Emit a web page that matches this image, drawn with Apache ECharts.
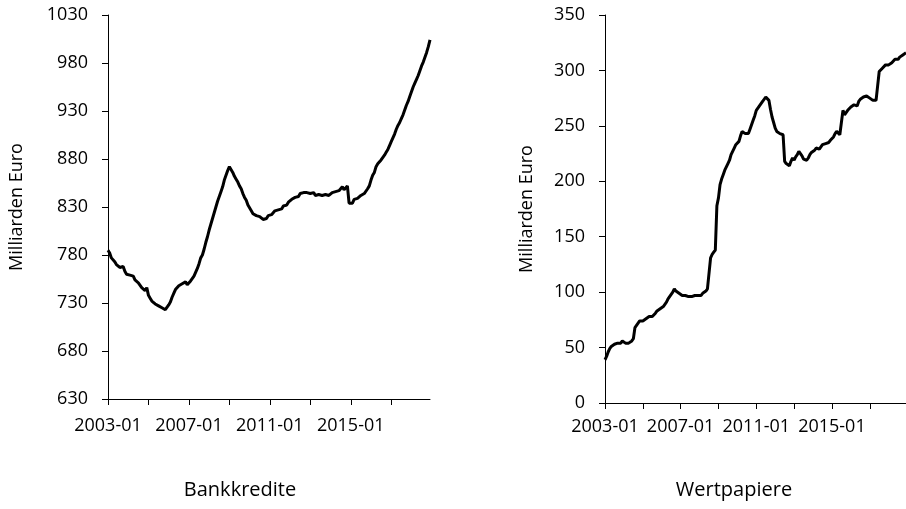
<!DOCTYPE html>
<html>
<head>
<meta charset="utf-8">
<script src="https://cdn.jsdelivr.net/npm/echarts@6/dist/echarts.min.js"></script>
<style>
  html, body { margin: 0; padding: 0; background: #fff; }
  #chart { width: 906px; height: 509px; }
</style>
</head>
<body>
<div id="chart"></div>
<script>
// Monate 2003-01 bis 2018-12
const years = [2003, 2004, 2005, 2006, 2007, 2008, 2009, 2010, 2011, 2012, 2013, 2014, 2015, 2016, 2017, 2018];
const monthNames = ['01', '02', '03', '04', '05', '06', '07', '08', '09', '10', '11', '12'];
const months = [];
years.forEach(y => monthNames.forEach(m => months.push(y + '-' + m)));

// Bankkredite (Milliarden Euro), monatlich
const bankkredite = [
  785, 782, 777, 775, 773, 770, 771, 767, 766, 768, 763, 760,
  760, 759, 757, 758, 754, 752, 751, 749, 746, 745, 743, 746,
  738, 735, 732, 731, 729, 728, 727, 728, 725, 726, 723, 722,
  728, 731, 736, 740, 744, 746, 748, 747, 750, 748, 752, 749,
  751, 753, 755, 758, 760, 766, 771, 777, 780, 786, 793, 799,
  806, 812, 818, 824, 830, 836, 841, 846, 851, 858, 863, 868,
  872, 870, 866, 862, 859, 856, 852, 849, 844, 840, 837, 832,
  830, 826, 823, 824, 821, 819, 820, 818, 817, 819, 818, 821,
  820, 822, 824, 826, 825, 827, 829, 828, 831, 833, 832, 835,
  836, 838, 837, 840, 842, 841, 844, 846, 845, 847, 845, 846,
  844, 843, 845, 842, 841, 843, 844, 842, 841, 843, 844, 842,
  843, 845, 844, 846, 845, 847, 849, 851, 848, 850, 852, 834,
  836, 834, 838, 837, 839, 840, 842, 841, 844, 846, 849, 852,
  858, 863, 866, 872, 875, 876, 879, 881, 884, 887, 890, 894,
  898, 902, 906, 911, 915, 918, 922, 926, 931, 936, 940, 945,
  950, 955, 959, 963, 967, 972, 977, 981, 986, 991, 997, 1004
];

// Wertpapiere (Milliarden Euro), monatlich
const wertpapiere = [
  39, 42, 46, 49, 51, 52, 53, 53, 54, 55, 54, 56,
  55, 54, 53, 54, 55, 56, 58, 68, 70, 72, 74, 75,
  74, 75, 76, 77, 78, 77, 78, 79, 81, 83, 84, 85,
  86, 87, 88, 91, 94, 96, 95, 100, 103, 101, 100, 99,
  98, 97, 98, 97, 97, 96, 97, 96, 97, 97, 96, 97,
  98, 97, 99, 100, 101, 103, 104, 131, 134, 136, 138, 178,
  185, 197, 202, 206, 210, 213, 216, 219, 224, 227, 230, 233,
  232, 236, 241, 245, 244, 243, 242, 243, 247, 251, 255, 259,
  264, 266, 268, 270, 272, 274, 276, 277, 273, 265, 258, 253,
  248, 245, 244, 243, 244, 242, 218, 216, 215, 214, 218, 221,
  219, 222, 224, 227, 225, 223, 220, 221, 219, 221, 224, 226,
  225, 228, 230, 231, 229, 231, 233, 232, 234, 233, 235, 237,
  237, 240, 243, 245, 244, 242, 243, 264, 260, 262, 264, 265,
  267, 266, 269, 270, 268, 272, 274, 275, 276, 275, 277, 276,
  275, 274, 273, 274, 273, 286, 299, 300, 302, 303, 305, 304,
  305, 306, 307, 308, 310, 311, 310, 312, 313, 314, 315, 316
];

const font = '"Open Sans", sans-serif';

const xAxisBase = {
  type: 'category',
  data: months,
  boundaryGap: false,
  axisLine: { lineStyle: { color: '#000', width: 1 } },
  axisTick: { interval: 23, length: 6, lineStyle: { color: '#000' } },
  axisLabel: { interval: 47, color: '#000', fontSize: 18, fontFamily: font },
  splitLine: { show: false }
};

const yAxisBase = {
  type: 'value',
  name: 'Milliarden Euro',
  nameLocation: 'middle',
  nameTextStyle: { color: '#000', fontSize: 18, fontFamily: font },
  axisLine: { show: true, lineStyle: { color: '#000', width: 1 } },
  axisTick: { show: true, length: 6, lineStyle: { color: '#000' } },
  axisLabel: { color: '#000', fontSize: 18, fontFamily: font, margin: 20, formatter: v => String(v) },
  splitLine: { show: false }
};

const chart = echarts.init(document.getElementById('chart'));
chart.setOption({
  animation: false,
  backgroundColor: '#fff',
  grid: [
    { left: 108, right: 476, top: 15, bottom: 110 },
    { left: 605, right: 0, top: 15, bottom: 106 }
  ],
  xAxis: [
    Object.assign({}, xAxisBase, { gridIndex: 0, axisLabel: Object.assign({}, xAxisBase.axisLabel, { margin: 18 }) }),
    Object.assign({}, xAxisBase, { gridIndex: 1, axisLabel: Object.assign({}, xAxisBase.axisLabel, { margin: 15 }) })
  ],
  yAxis: [
    Object.assign({}, yAxisBase, { gridIndex: 0, min: 630, max: 1030, interval: 50, nameGap: 82 }),
    Object.assign({}, yAxisBase, { gridIndex: 1, min: 0, max: 350, interval: 50, nameGap: 69 })
  ],
  graphic: [
    { type: 'text', x: 240, y: 490, style: { text: 'Bankkredite', font: '20px ' + font, fill: '#000', textAlign: 'center', textVerticalAlign: 'middle' } },
    { type: 'text', x: 734, y: 490, style: { text: 'Wertpapiere', font: '20px ' + font, fill: '#000', textAlign: 'center', textVerticalAlign: 'middle' } }
  ],
  series: [
    {
      type: 'line', xAxisIndex: 0, yAxisIndex: 0, data: bankkredite,
      showSymbol: false, lineStyle: { color: '#000', width: 3 }
    },
    {
      type: 'line', xAxisIndex: 1, yAxisIndex: 1, data: wertpapiere,
      showSymbol: false, lineStyle: { color: '#000', width: 3 }
    }
  ]
});
</script>
</body>
</html>
